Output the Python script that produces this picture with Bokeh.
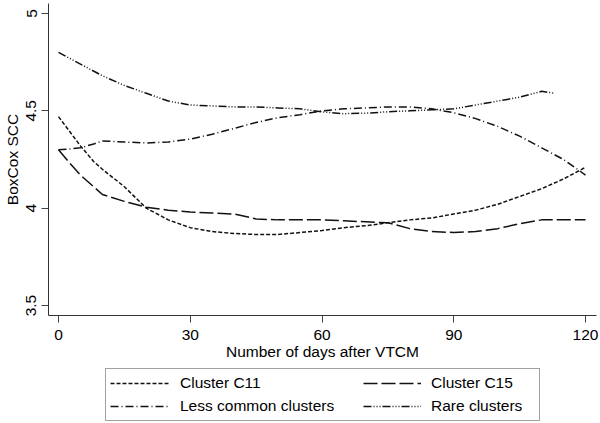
from bokeh.plotting import figure
from bokeh.models import Range1d, FixedTicker, Legend, LegendItem
from bokeh.layouts import column
from bokeh.embed import file_html
from bokeh.resources import INLINE

days = [0, 3, 5, 8, 10, 15, 20, 25, 30, 35, 40, 45, 50, 55, 60, 65, 70, 75,
        80, 85, 90, 95, 100, 105, 110, 115, 120]

c11 = [4.47, 4.38, 4.32, 4.24, 4.20, 4.11, 4.00, 3.94, 3.90, 3.88, 3.87, 3.865,
       3.865, 3.875, 3.885, 3.90, 3.91, 3.925, 3.94, 3.95, 3.97, 3.99, 4.02,
       4.06, 4.10, 4.15, 4.21]

c15 = [4.30, 4.22, 4.17, 4.11, 4.07, 4.035, 4.005, 3.99, 3.98, 3.975, 3.97,
       3.945, 3.94, 3.94, 3.94, 3.935, 3.93, 3.925, 3.895, 3.88, 3.875, 3.88,
       3.895, 3.92, 3.94, 3.94, 3.94]

less_common = [4.30, 4.305, 4.31, 4.33, 4.345, 4.34, 4.335, 4.34, 4.355, 4.38,
               4.41, 4.44, 4.465, 4.48, 4.50, 4.51, 4.515, 4.52, 4.52, 4.51,
               4.49, 4.46, 4.42, 4.37, 4.31, 4.25, 4.17]

rare_days = [0, 5, 10, 15, 20, 25, 30, 35, 40, 45, 50, 55, 60, 65, 70, 75, 80,
             85, 90, 95, 100, 105, 110, 113]
rare = [4.80, 4.74, 4.68, 4.63, 4.59, 4.55, 4.53, 4.525, 4.52, 4.52, 4.515,
        4.51, 4.495, 4.485, 4.488, 4.495, 4.50, 4.505, 4.51, 4.53, 4.55, 4.57,
        4.60, 4.59]

series_labels = ["Cluster C11", "Cluster C15", "Less common clusters", "Rare clusters"]

x_ticks = [0, 30, 60, 90, 120]
y_ticks = [3.5, 4, 4.5, 5]
y_tick_labels = {3.5: "3.5", 4: "4", 4.5: "4.5", 5: "5"}

FONT = "Liberation Sans"
FS = "15.5px"
INK = "#111111"
STYLES = [dict(line_dash="4 2"), dict(line_dash="14 4"),
          dict(line_dash="8 3 1 3"), dict(line_dash="8 2 1 2 1 2 1 2")]

p = figure(width=600, height=362, output_backend="svg", toolbar_location=None,
           x_range=Range1d(-2.277, 122.5), y_range=Range1d(3.449, 5.051),
           min_border_left=48, min_border_right=4, min_border_top=3,
           min_border_bottom=45)
p.outline_line_color = None
p.grid.visible = False
p.background_fill_color = "white"
p.border_fill_color = "white"

for ax in (p.xaxis[0], p.yaxis[0]):
    ax.axis_line_color = "#333333"
    ax.axis_line_width = 1
    ax.major_tick_line_color = "#444444"
    ax.major_tick_out = 7
    ax.major_tick_in = 0
    ax.minor_tick_line_color = None
    ax.major_label_text_font = FONT
    ax.major_label_text_font_size = FS
    ax.major_label_text_color = "black"
    ax.axis_label_text_font = FONT
    ax.axis_label_text_font_size = FS
    ax.axis_label_text_font_style = "normal"
    ax.axis_label_text_color = "black"

p.xaxis.ticker = FixedTicker(ticks=x_ticks)
p.xaxis.axis_label = "Number of days after VTCM"
p.xaxis.major_label_standoff = 7
p.xaxis.axis_label_standoff = 0

p.yaxis.ticker = FixedTicker(ticks=y_ticks)
p.yaxis.major_label_overrides = y_tick_labels
p.yaxis.major_label_orientation = "vertical"
p.yaxis.axis_label = "BoxCox SCC"
p.yaxis.major_label_standoff = 5
p.yaxis.axis_label_standoff = 3

xs = [days, days, days, rare_days]
ys = [c11, c15, less_common, rare]
for x, y, st in zip(xs, ys, STYLES):
    p.line(x, y, line_color=INK, line_width=1.5, **st)

# legend panel below the chart (its frame is aligned with the chart's frame)
p2 = figure(width=600, height=61, output_backend="svg", toolbar_location=None,
            x_axis_location=None, y_axis_location=None,
            x_range=Range1d(0, 1), y_range=Range1d(0, 1),
            min_border_left=48, min_border_right=4, min_border_top=0,
            min_border_bottom=0)
p2.outline_line_color = None
p2.grid.visible = False
p2.background_fill_color = "white"
p2.border_fill_color = "white"

# same series drawn in the legend panel (out of its view), used as legend keys
keys = [p2.line(x, y, line_color=INK, line_width=1.5, **st)
        for x, y, st in zip(xs, ys, STYLES)]

common = dict(glyph_height=20, label_standoff=10, padding=4, spacing=3,
              label_text_font=FONT, label_text_font_size=FS,
              label_text_color="black", margin=0)

leg_a = Legend(items=[LegendItem(label=series_labels[0], renderers=[keys[0]]),
                      LegendItem(label=series_labels[2], renderers=[keys[2]])],
               location=(57, 2), glyph_width=60, label_width=355,
               border_line_color="#444444", border_line_width=1.3,
               background_fill_color="white", background_fill_alpha=1,
               **common)
leg_b = Legend(items=[LegendItem(label=series_labels[1], renderers=[keys[1]]),
                      LegendItem(label=series_labels[3], renderers=[keys[3]])],
               location=(315, 7), glyph_width=58, border_line_color=None,
               background_fill_alpha=0, **common)
p2.add_layout(leg_a)
p2.add_layout(leg_b)

layout = column(p, p2, spacing=0)
open("out.html", "w").write(file_html(layout, INLINE))
